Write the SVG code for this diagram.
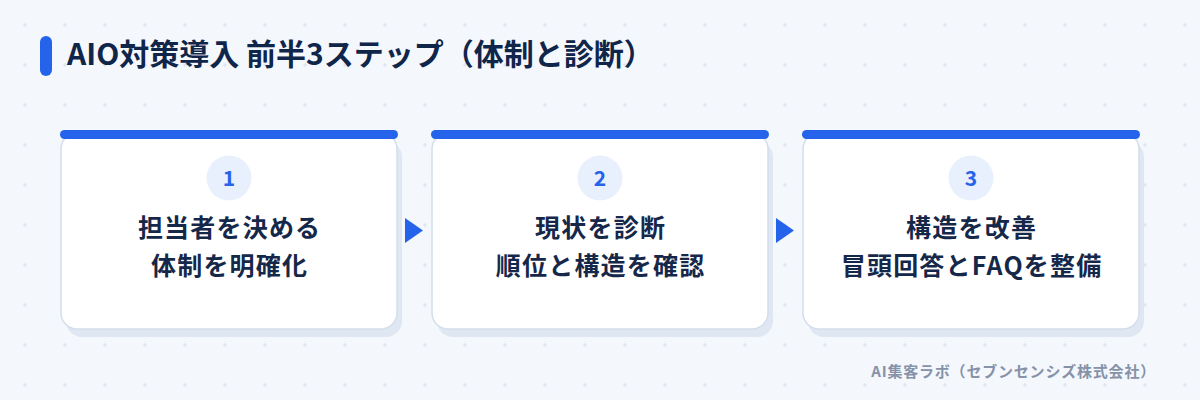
<svg xmlns="http://www.w3.org/2000/svg" width="1200" height="400" viewBox="0 0 1200 400">
  <defs>
    <pattern id="grid" x="5" y="5" width="40" height="40" patternUnits="userSpaceOnUse">
      <path d="M18 20h4M20 18v4" stroke="#dae2ee" stroke-width="1"/>
    </pattern>
    <style>
      .title{font-family:"Noto Sans CJK JP","Noto Sans",sans-serif;font-size:30px;font-weight:700;fill:#10254a}
      .shadow{fill:#dfe7f2}
      .card{fill:#ffffff;stroke:#d3deec;stroke-width:1.5}
      .bar{fill:#2563eb}
      .badge{fill:#e8f0fd}
      .num{font-family:"Noto Sans CJK JP","Noto Sans",sans-serif;font-size:21px;font-weight:600;fill:#2563eb;text-anchor:middle}
      .label{font-family:"Noto Sans CJK JP","Noto Sans",sans-serif;font-size:25px;font-weight:700;fill:#16284a;text-anchor:middle;letter-spacing:1.2px}
      .arrow{fill:#2563eb}
      .footer{font-family:"Noto Sans CJK JP","Noto Sans",sans-serif;font-size:15px;font-weight:700;fill:#8592a8;text-anchor:end;letter-spacing:0.8px}
    </style>
  </defs>
  <rect width="1200" height="400" fill="#f4f7fc"/>
  <rect width="1200" height="400" fill="url(#grid)"/>

  <g id="header">
    <rect x="40" y="36" width="12" height="40" rx="6" fill="#2563eb"/>
    <text class="title" x="67" y="65">AIO対策導入 前半3ステップ（体制と診断）</text>
  </g>

  <g id="step1">
    <rect class="shadow" x="66" y="141" width="336" height="196" rx="16"/>
    <rect class="card" x="61" y="133" width="336" height="196" rx="16"/>
    <rect class="bar" x="60" y="130" width="338" height="9" rx="4.5"/>
    <circle class="badge" cx="229" cy="178" r="22.5"/>
    <text class="num" x="229" y="185.5">1</text>
    <text class="label" x="229.6" y="237">担当者を決める</text>
    <text class="label" x="229.6" y="275">体制を明確化</text>
  </g>

  <g id="step2">
    <rect class="shadow" x="437" y="141" width="336" height="196" rx="16"/>
    <rect class="card" x="432" y="133" width="336" height="196" rx="16"/>
    <rect class="bar" x="431" y="130" width="338" height="9" rx="4.5"/>
    <circle class="badge" cx="600" cy="178" r="22.5"/>
    <text class="num" x="600" y="185.5">2</text>
    <text class="label" x="600.6" y="237">現状を診断</text>
    <text class="label" x="600.6" y="275">順位と構造を確認</text>
  </g>

  <g id="step3">
    <rect class="shadow" x="808" y="141" width="336" height="196" rx="16"/>
    <rect class="card" x="803" y="133" width="336" height="196" rx="16"/>
    <rect class="bar" x="802" y="130" width="338" height="9" rx="4.5"/>
    <circle class="badge" cx="971" cy="178" r="22.5"/>
    <text class="num" x="971" y="185.5">3</text>
    <text class="label" x="971.6" y="237">構造を改善</text>
    <text class="label" x="971.6" y="275">冒頭回答とFAQを整備</text>
  </g>

  <g id="connectors">
    <polygon class="arrow" points="405,218 423,230.5 405,243"/>
    <polygon class="arrow" points="776,218 794,230.5 776,243"/>
  </g>

  <text class="footer" x="1156" y="377">AI集客ラボ（セブンセンシズ株式会社）</text>
</svg>
